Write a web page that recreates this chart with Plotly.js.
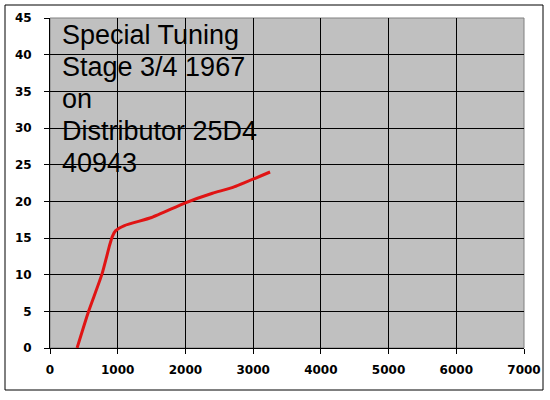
<!DOCTYPE html>
<html>
<head>
<meta charset="utf-8">
<script src="https://cdn.plot.ly/plotly-3.0.1.min.js"></script>
<style>
  html, body { margin: 0; padding: 0; background: #fff; }
  #chart { width: 550px; height: 400px; }
</style>
</head>
<body>
<div id="chart"></div>
<script>
// Kurve Zündverstellung, Werte
const rpm     = [400, 570, 765, 880, 920, 970, 1100, 1500, 2000, 2400, 2700, 3250];
const advance = [0,   5,   10,  14,  15.2, 16,  16.7, 17.8, 19.8, 21.1, 21.9, 24];
const xTicks  = [0, 1000, 2000, 3000, 4000, 5000, 6000, 7000];
const yTicks  = [0, 5, 10, 15, 20, 25, 30, 35, 40, 45];
const noteLines = ['Special Tuning', 'Stage 3/4 1967', 'on', 'Distributor 25D4', '40943'];

const W = 550, H = 400;
const M = { l: 50, r: 26, t: 18, b: 52 };
const pw = W - M.l - M.r, ph = H - M.t - M.b;

// Pixel -> Papierkoordinaten
const px = v => (v - M.l) / pw;
const py = v => (H - M.b - v) / ph;

const tickFont = { family: 'DejaVu Sans', size: 12, color: '#000', weight: 'bold' };

const trace = {
  x: rpm, y: advance, type: 'scatter', mode: 'lines',
  line: { color: '#e01414', width: 3, shape: 'spline', smoothing: 0.5 },
  hoverinfo: 'skip'
};

const annotations = noteLines.map((t, i) => ({
  text: t, xref: 'paper', yref: 'paper',
  x: px(61), y: py(35 + i * 32),
  xanchor: 'left', yanchor: 'middle', showarrow: false, borderpad: 0,
  font: { family: 'Liberation Sans', size: 27, color: '#000' }
}));

Plotly.newPlot('chart', [trace], {
  width: W, height: H,
  margin: M,
  paper_bgcolor: '#fff', plot_bgcolor: '#c0c0c0',
  showlegend: false,
  xaxis: {
    range: [0, 7000], tickvals: xTicks, ticktext: xTicks.map(String),
    showgrid: true, gridcolor: '#000', gridwidth: 1,
    zeroline: false, showline: true, linecolor: '#000', linewidth: 1, mirror: false,
    ticks: 'outside', ticklen: 5, tickcolor: '#000', tickfont: tickFont,
    ticklabelstandoff: 6, fixedrange: true
  },
  yaxis: {
    range: [0, 45], tickvals: yTicks, ticktext: yTicks.map(String),
    showgrid: true, gridcolor: '#000', gridwidth: 1,
    zeroline: false, showline: true, linecolor: '#000', linewidth: 1,
    ticks: 'outside', ticklen: 5, tickcolor: '#000', tickfont: tickFont,
    ticklabelstandoff: 10, fixedrange: true
  },
  shapes: [
    // Rahmen um das Diagramm
    { type: 'rect', xref: 'paper', yref: 'paper',
      x0: px(5), x1: px(543), y0: py(390), y1: py(5),
      line: { color: '#000', width: 1 }, fillcolor: 'rgba(0,0,0,0)', layer: 'below' },
    // rechte und obere Kante der Zeichenfläche
    { type: 'rect', xref: 'paper', yref: 'paper', x0: 0, x1: 1, y0: 0, y1: 1,
      line: { color: '#808080', width: 1 }, fillcolor: 'rgba(0,0,0,0)', layer: 'below' }
  ],
  annotations
}, { displayModeBar: false, staticPlot: true });
</script>
</body>
</html>
